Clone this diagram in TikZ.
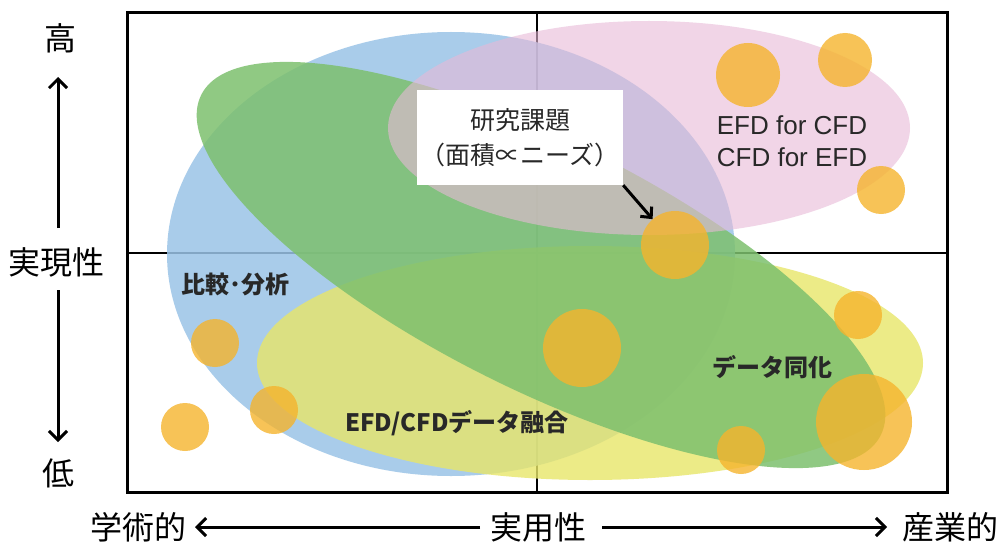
\documentclass[tikz,border=0pt]{standalone}
\usepackage{fontspec}
\newfontfamily\jp{Noto Sans CJK JP}
\newfontfamily\lib{Liberation Sans}
\usetikzlibrary{arrows.meta}
\definecolor{cblue}{RGB}{155,196,231}
\definecolor{cpink}{RGB}{232,185,215}
\definecolor{cgreen}{RGB}{125,192,110}
\definecolor{cyellow}{RGB}{232,230,105}
\definecolor{corange}{RGB}{245,180,45}
\definecolor{ctext}{RGB}{40,40,40}
\begin{document}
\begin{tikzpicture}[x=1pt,y=1pt,
  axislbl/.style={font=\jp\fontsize{32}{38}\selectfont, text=black, inner sep=0pt},
  boldlbl/.style={font=\jp\bfseries\fontsize{24}{28}\selectfont, text=ctext, inner sep=0pt},
  bubble/.style={circle, fill=corange, fill opacity=0.8, draw=none, inner sep=0pt},
  axisarrow/.style={line width=3pt, -{Straight Barb[length=9pt,width=18pt,line width=3pt]}},
  ptrarrow/.style={line width=3pt, -{Straight Barb[length=8pt,width=15pt,line width=3pt]}},
  midline/.style={line width=1.5pt, black},
  frameline/.style={line width=3pt, black}
]
\useasboundingbox (0,0) rectangle (1000,542);
\fill[white] (0,0) rectangle (1000,542);

% mid lines (beneath shapes)
\coordinate (vt) at (537,529);
\coordinate (vb) at (537,50);
\coordinate (hl) at (127,289);
\coordinate (hr) at (947,289);
\draw[midline] (vt) -- (vb);
\draw[midline] (hl) -- (hr);

% regions
\fill[cblue, fill opacity=0.85] (451,288) ellipse [x radius=284, y radius=222];
\fill[cyellow, fill opacity=0.8] (590,179) ellipse [x radius=333, y radius=117];
\fill[cgreen, fill opacity=0.85, rotate around={-26.6:(541,277)}] (541,277) ellipse [x radius=380, y radius=124];
\fill[cpink, fill opacity=0.6] (649,414) ellipse [x radius=261, y radius=107];

% frame
\draw[frameline] (127,50) rectangle (947,529);

% bubbles
\node[bubble, minimum size=64] (c1) at (748,467) {};
\node[bubble, minimum size=54] (c2) at (845,482) {};
\node[bubble, minimum size=48] (c3) at (881,352) {};
\node[bubble, minimum size=68] (c4) at (675,297) {};
\node[bubble, minimum size=78] (c5) at (582,194) {};
\node[bubble, minimum size=48] (c6) at (858,227) {};
\node[bubble, minimum size=96] (c7) at (864,120) {};
\node[bubble, minimum size=48] (c8) at (741,92) {};
\node[bubble, minimum size=48] (c9) at (215,199) {};
\node[bubble, minimum size=48] (c10) at (274,132) {};
\node[bubble, minimum size=48] (c11) at (185,115) {};

% research topic box
\node[fill=white, draw=none, minimum width=206, minimum height=95, inner sep=0pt,
      align=center, font=\jp\fontsize{25}{35}\selectfont, text=ctext] (box) at (520,404.5)
      {研究課題\\（面積∝ニーズ）};
\draw[ptrarrow] (box.south east) -- (c4);

% region labels
\node[font=\lib\fontsize{26}{32}\selectfont, text=ctext, align=center, inner sep=0pt] (efd) at (792,401)
      {EFD for CFD\\CFD for EFD};
\node[boldlbl] (hikaku) at (235,258) {比較･分析};
\node[boldlbl] (yugo) at (457,119) {EFD/CFDデータ融合};
\node[boldlbl] (doka) at (772,175) {データ同化};

% axis labels
\node[axislbl] (taka) at (60,504) {高};
\node[axislbl] (jitsu) at (57,280) {実現性};
\node[axislbl] (hiku) at (58,69) {低};
\node[axislbl] (gaku) at (138,15) {学術的};
\node[axislbl] (jitsuyo) at (538,15) {実用性};
\node[axislbl] (sangyo) at (950,15) {産業的};

% axis arrows
\coordinate (upS) at (58,314);
\coordinate (upE) at (58,465);
\coordinate (dnS) at (58,252);
\coordinate (dnE) at (58,100);
\coordinate (lfS) at (480,15);
\coordinate (lfE) at (195,15);
\coordinate (rtS) at (602,15);
\coordinate (rtE) at (887,15);
\draw[axisarrow] (upS) -- (upE);
\draw[axisarrow] (dnS) -- (dnE);
\draw[axisarrow] (lfS) -- (lfE);
\draw[axisarrow] (rtS) -- (rtE);
\end{tikzpicture}
\end{document}
